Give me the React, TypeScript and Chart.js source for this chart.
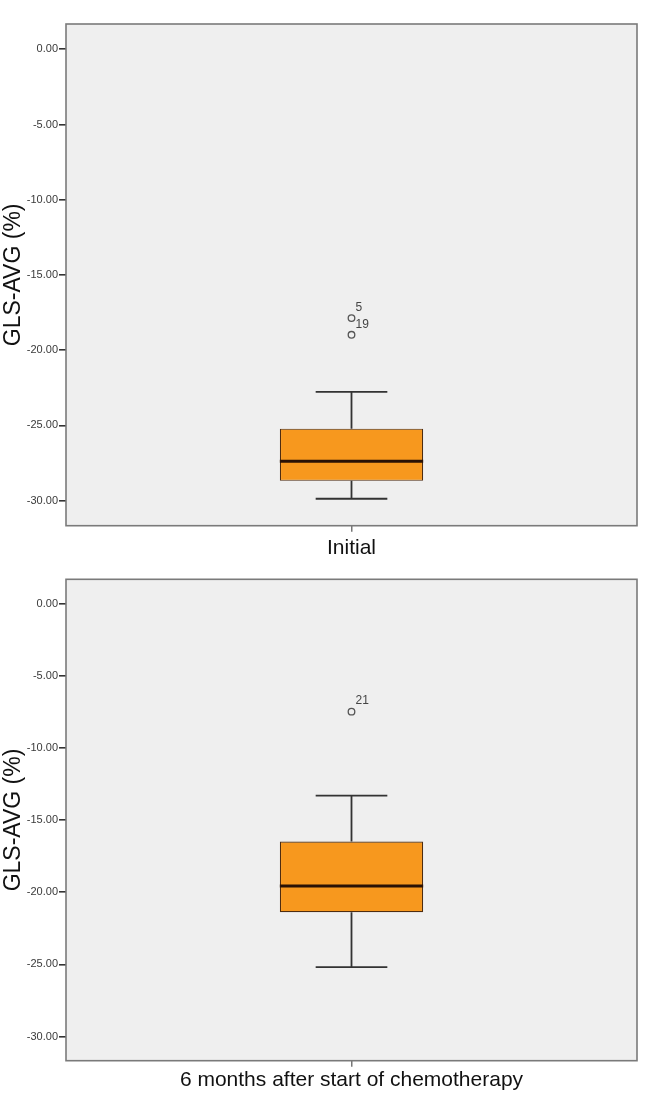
import React, { useEffect, useRef } from "react";
import { Chart, registerables } from "chart.js";

Chart.register(...registerables);

// ---- Data ----
const INITIAL_CATEGORIES = ["Initial"];
// [lower whisker, Q1, median, Q3, upper whisker]
const INITIAL_BOX = [-29.88, -28.69, -27.39, -25.22, -22.78];
const INITIAL_OUTLIERS = [-17.87, -18.98];
const INITIAL_OUTLIER_IDS = ["5", "19"];

const SIXMONTH_CATEGORIES = ["6 months after start of chemotherapy"];
const SIXMONTH_BOX = [-25.19, -21.38, -19.56, -16.48, -13.31];
const SIXMONTH_OUTLIERS = [-7.49];
const SIXMONTH_OUTLIER_IDS = ["21"];

const Y_TICKS = [0, -5, -10, -15, -20, -25, -30];
const Y_MIN = -31.67;
const Y_MAX = 1.68;
const Y_TITLE = "GLS-AVG (%)";

const FONT = "'Liberation Sans', Arial, sans-serif";

type BoxProps = {
  categories: string[];
  box: number[];
  outliers: number[];
  outlierIds: string[];
  height: number;
  padTop: number;
  xAxisHeight: number;
  tickPadding: number;
};

const framePlugin = {
  id: "frameBg",
  beforeDraw(chart: any) {
    const { ctx, chartArea } = chart;
    ctx.save();
    ctx.fillStyle = "#efefef";
    ctx.fillRect(chartArea.left, chartArea.top, chartArea.right - chartArea.left, chartArea.bottom - chartArea.top);
    ctx.restore();
  },
  afterDraw(chart: any) {
    const { ctx, chartArea } = chart;
    ctx.save();
    ctx.strokeStyle = "#7a7a7a";
    ctx.lineWidth = 1.6;
    ctx.strokeRect(chartArea.left, chartArea.top, chartArea.right - chartArea.left, chartArea.bottom - chartArea.top);
    ctx.restore();
  },
};

function BoxChart(props: BoxProps) {
  const ref = useRef<HTMLCanvasElement | null>(null);
  useEffect(() => {
    if (!ref.current) return;
    const { categories, box, outliers, outlierIds } = props;
    const boxPlugin = {
      id: "boxWhiskers",
      afterDatasetsDraw(chart: any) {
        const { ctx } = chart;
        const y = chart.scales.y;
        const meta = chart.getDatasetMeta(0);
        const bar = meta.data[0];
        if (!bar) return;
        const cx = bar.x;
        const half = bar.width / 2;
        const capHalf = half / 2;
        const [lo, q1, med, q3, hi] = box;
        ctx.save();
        ctx.strokeStyle = "#333333";
        ctx.lineWidth = 1.8;
        ctx.beginPath();
        ctx.moveTo(cx, y.getPixelForValue(q3));
        ctx.lineTo(cx, y.getPixelForValue(hi));
        ctx.moveTo(cx - capHalf, y.getPixelForValue(hi));
        ctx.lineTo(cx + capHalf, y.getPixelForValue(hi));
        ctx.moveTo(cx, y.getPixelForValue(q1));
        ctx.lineTo(cx, y.getPixelForValue(lo));
        ctx.moveTo(cx - capHalf, y.getPixelForValue(lo));
        ctx.lineTo(cx + capHalf, y.getPixelForValue(lo));
        ctx.stroke();
        ctx.strokeStyle = "#2a1205";
        ctx.lineWidth = 3;
        ctx.beginPath();
        ctx.moveTo(cx - half, y.getPixelForValue(med));
        ctx.lineTo(cx + half, y.getPixelForValue(med));
        ctx.stroke();
        // outlier ids
        const pm = chart.getDatasetMeta(1);
        ctx.fillStyle = "#444444";
        ctx.font = `12px ${FONT}`;
        ctx.textAlign = "left";
        ctx.textBaseline = "middle";
        pm.data.forEach((pt: any, i: number) => {
          ctx.fillText(outlierIds[i], pt.x + 4, pt.y - 10.5);
        });
        ctx.restore();
      },
    };
    const chart = new Chart(ref.current, {
      type: "bar",
      data: {
        labels: categories,
        datasets: [
          {
            type: "bar",
            data: [[box[1], box[3]]] as any,
            backgroundColor: "#f7981e",
            borderColor: "#4e2c10",
            borderWidth: 1.2,
            borderSkipped: false,
            barPercentage: 0.251,
            categoryPercentage: 1,
          } as any,
          {
            type: "line",
            data: outliers.map((v) => ({ x: categories[0], y: v })),
            showLine: false,
            pointStyle: "circle",
            pointRadius: 3.3,
            pointBorderWidth: 1.3,
            pointBorderColor: "#555555",
            pointBackgroundColor: "rgba(0,0,0,0)",
          } as any,
        ],
      },
      options: {
        responsive: false,
        animation: false,
        devicePixelRatio: 1,
        layout: { padding: { top: props.padTop, right: 9, left: 0, bottom: 0 } },
        plugins: { legend: { display: false }, tooltip: { enabled: false } },
        scales: {
          x: {
            offset: true,
            grid: {
              offset: false,
              drawOnChartArea: false,
              tickLength: 6,
              color: "#777777",
              lineWidth: 1.5,
            },
            border: { display: false },
            ticks: {
              color: "#111111",
              padding: props.tickPadding,
              font: { family: FONT, size: 21 },
            },
            afterFit: (s: any) => {
              s.height = props.xAxisHeight;
            },
          },
          y: {
            min: Y_MIN,
            max: Y_MAX,
            grid: {
              drawOnChartArea: false,
              tickLength: 7,
              color: "#333333",
              lineWidth: 1.6,
            },
            border: { display: false },
            afterBuildTicks: (s: any) => {
              s.ticks = Y_TICKS.map((v) => ({ value: v }));
            },
            ticks: {
              color: "#3a3a3a",
              padding: 1,
              font: { family: FONT, size: 11 },
              callback: (v: any) => Number(v).toFixed(2),
            },
            title: {
              display: true,
              text: Y_TITLE,
              color: "#111111",
              padding: { top: 1, bottom: 0 },
              font: { family: FONT, size: 23, lineHeight: 1.1 },
            },
            afterFit: (s: any) => {
              s.width = 66;
            },
          },
        },
      } as any,
      plugins: [framePlugin, boxPlugin],
    });
    return () => chart.destroy();
  }, []);
  return (
    <canvas
      ref={ref}
      width={646}
      height={props.height}
      style={{ display: "block", width: 646, height: props.height }}
    />
  );
}

export default function App() {
  return (
    <div style={{ position: "absolute", left: 0, top: 0, width: 646, height: 1109, background: "#ffffff" }}>
      <BoxChart
        categories={INITIAL_CATEGORIES}
        box={INITIAL_BOX}
        outliers={INITIAL_OUTLIERS}
        outlierIds={INITIAL_OUTLIER_IDS}
        height={560}
        padTop={24}
        xAxisHeight={34.3}
        tickPadding={4}
      />
      <BoxChart
        categories={SIXMONTH_CATEGORIES}
        box={SIXMONTH_BOX}
        outliers={SIXMONTH_OUTLIERS}
        outlierIds={SIXMONTH_OUTLIER_IDS}
        height={549}
        padTop={19.3}
        xAxisHeight={48.3}
        tickPadding={1}
      />
    </div>
  );
}
